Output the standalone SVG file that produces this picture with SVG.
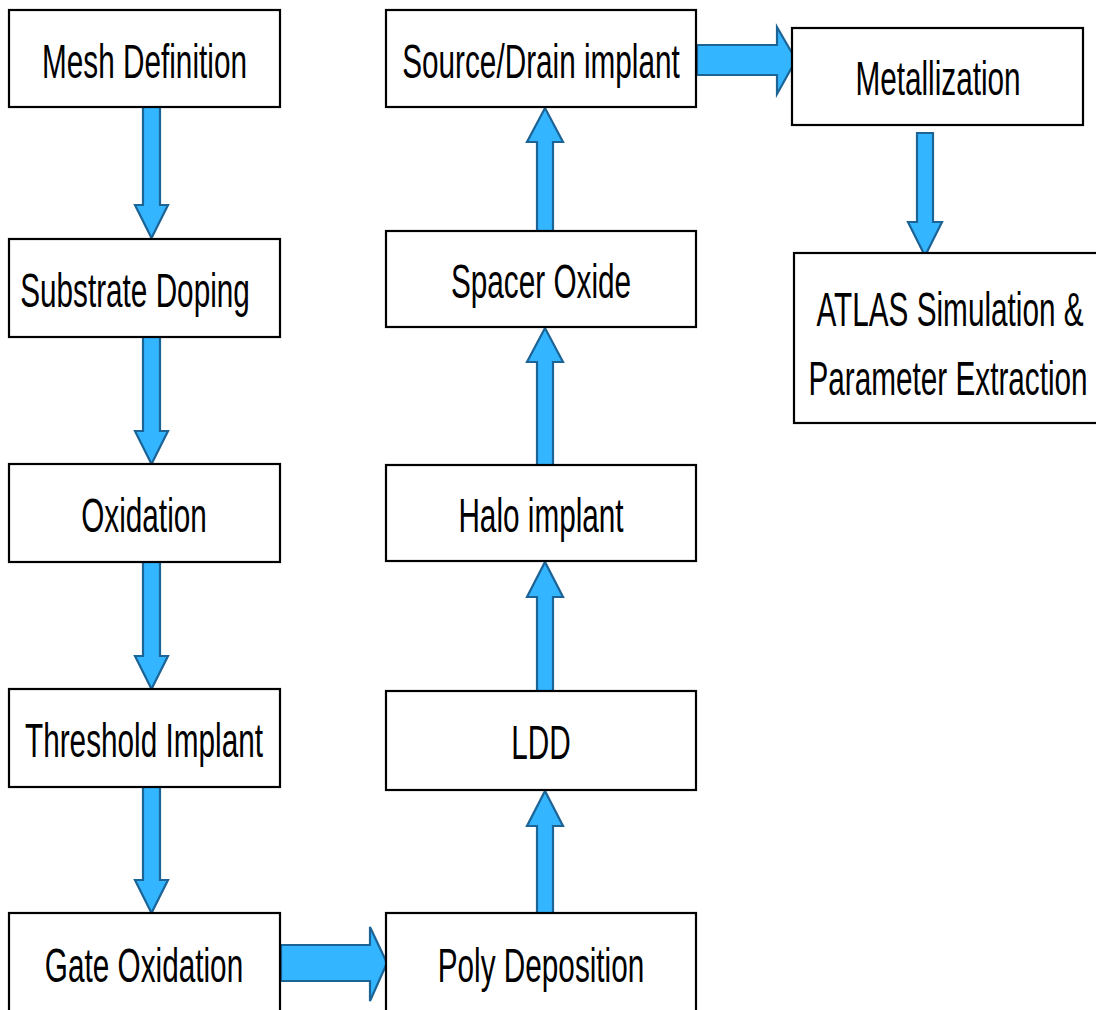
<svg xmlns="http://www.w3.org/2000/svg" width="1096" height="1010" viewBox="0 0 1096 1010">
  <style>
    .box { fill: #ffffff; stroke: #000000; stroke-width: 2.2; }
    .lbl { font-family: "Liberation Sans", Arial, sans-serif; font-size: 49px; fill: #000000; text-anchor: middle; }
    .arr { fill: #33b5ff; stroke: #1d6496; stroke-width: 2.2; stroke-linejoin: miter; }
  </style>
  <rect width="1096" height="1010" fill="#ffffff"/>

  <!-- connectors -->
  <g id="connectors">
    <!-- left column, downward -->
    <polygon class="arr" points="143,107 160,107 160,205 168,205 151.5,238 135,205 143,205"/>
    <polygon class="arr" points="143,337 160,337 160,431 168,431 151.5,464 135,431 143,431"/>
    <polygon class="arr" points="143,562 160,562 160,656 168,656 151.5,689 135,656 143,656"/>
    <polygon class="arr" points="143,787 160,787 160,880 168,880 151.5,913 135,880 143,880"/>
    <!-- Gate Oxidation to Poly Deposition -->
    <polygon class="arr" points="281,945 370,945 370,927 387,963 370,1001 370,981 281,981"/>
    <!-- middle column, upward -->
    <polygon class="arr" points="537,913 553,913 553,826 563,826 545,791 527,826 537,826"/>
    <polygon class="arr" points="537,691 553,691 553,597 563,597 545,562 527,597 537,597"/>
    <polygon class="arr" points="537,465 553,465 553,362 563,362 545,328 527,362 537,362"/>
    <polygon class="arr" points="537,231 553,231 553,142 563,142 545,108 527,142 537,142"/>
    <!-- Source/Drain implant to Metallization -->
    <polygon class="arr" points="697,45 777,45 777,27 796,60 777,94 777,75 697,75"/>
    <!-- Metallization to ATLAS -->
    <polygon class="arr" points="917,133 933,133 933,222 942,222 925,256 908,222 917,222"/>
  </g>

  <g id="mesh-definition">
    <rect class="box" x="9" y="10" width="271" height="97"/>
    <text class="lbl" transform="translate(144.5,78) scale(0.607,1)">Mesh Definition</text>
  </g>
  <g id="substrate-doping">
    <rect class="box" x="9" y="239" width="271" height="98"/>
    <text class="lbl" transform="translate(135,307) scale(0.607,1)">Substrate Doping</text>
  </g>
  <g id="oxidation">
    <rect class="box" x="9" y="464" width="271" height="98"/>
    <text class="lbl" transform="translate(144,532) scale(0.607,1)">Oxidation</text>
  </g>
  <g id="threshold-implant">
    <rect class="box" x="9" y="689" width="271" height="98"/>
    <text class="lbl" transform="translate(144,757) scale(0.607,1)">Threshold Implant</text>
  </g>
  <g id="gate-oxidation">
    <rect class="box" x="9" y="913" width="271" height="110"/>
    <text class="lbl" transform="translate(144,982) scale(0.607,1)">Gate Oxidation</text>
  </g>

  <g id="source-drain-implant">
    <rect class="box" x="386" y="10" width="310" height="97"/>
    <text class="lbl" transform="translate(541,78) scale(0.607,1)">Source/Drain implant</text>
  </g>
  <g id="spacer-oxide">
    <rect class="box" x="386" y="231" width="310" height="96"/>
    <text class="lbl" transform="translate(541,298) scale(0.607,1)">Spacer Oxide</text>
  </g>
  <g id="halo-implant">
    <rect class="box" x="386" y="465" width="310" height="96"/>
    <text class="lbl" transform="translate(541,532) scale(0.607,1)">Halo implant</text>
  </g>
  <g id="ldd">
    <rect class="box" x="386" y="691" width="310" height="99"/>
    <text class="lbl" transform="translate(541,759) scale(0.607,1)">LDD</text>
  </g>
  <g id="poly-deposition">
    <rect class="box" x="386" y="913" width="310" height="110"/>
    <text class="lbl" transform="translate(541,982) scale(0.607,1)">Poly Deposition</text>
  </g>

  <g id="metallization">
    <rect class="box" x="792" y="28" width="291" height="97"/>
    <text class="lbl" transform="translate(938,95) scale(0.607,1)">Metallization</text>
  </g>
  <g id="atlas-simulation">
    <rect class="box" x="794" y="253" width="310" height="170"/>
    <text class="lbl" transform="translate(950,326) scale(0.607,1)">ATLAS Simulation &amp;</text>
    <text class="lbl" transform="translate(948,395) scale(0.607,1)">Parameter Extraction</text>
  </g>
</svg>
